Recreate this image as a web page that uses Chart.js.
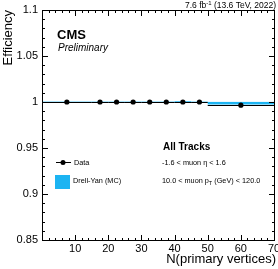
<!DOCTYPE html>
<html>
<head>
<meta charset="utf-8">
<script src="https://cdn.jsdelivr.net/npm/chart.js@4/dist/chart.umd.min.js"></script>
<style>
  html, body { margin: 0; padding: 0; background: #fff; overflow: hidden; }
  #wrap { width: 278px; height: 269px; position: relative; }
  #ov { position: absolute; left: 0; top: 0; pointer-events: none; }
</style>
</head>
<body>
<div id="wrap"><canvas id="c"></canvas><canvas id="ov" width="278" height="269"></canvas></div>
<script>
// bins in N(primary vertices)
const binEdges = [0, 15, 20, 25, 30, 35, 40, 45, 50, 70];
// data efficiency per bin
const dataEff = [1.0, 1.0, 1.0, 1.0, 1.0, 1.0, 1.0, 1.0, 0.9965];
// Drell-Yan MC efficiency and its uncertainty
const mcEff = [1.0, 1.0, 1.0, 1.0, 1.0, 1.0, 1.0, 1.0, 0.9987];
const mcErr = [0.0004, 0.0004, 0.0004, 0.0004, 0.0004, 0.0004, 0.0008, 0.0004, 0.0014];
// axis ticks
const xTicks = [10, 20, 30, 40, 50, 60, 70];
const yTicks = [0.85, 0.9, 0.95, 1, 1.05, 1.1];

const FONT = '"Liberation Sans", Arial, sans-serif';
const MC_COLOR = '#1cb4f2';

const binCenters = dataEff.map((_, i) => (binEdges[i] + binEdges[i + 1]) / 2);

// MC band and data x-error bars, under the markers
const bands = {
    id: 'bands',
    beforeDatasetsDraw(chart) {
        const ctx = chart.ctx;
        const x = chart.scales.x, y = chart.scales.y;
        ctx.save();
        ctx.fillStyle = MC_COLOR;
        mcEff.forEach((v, i) => {
            const x0 = x.getPixelForValue(binEdges[i]);
            const x1 = x.getPixelForValue(binEdges[i + 1]);
            const y0 = y.getPixelForValue(v + mcErr[i]);
            const y1 = y.getPixelForValue(v - mcErr[i]);
            ctx.fillRect(x0, y0, x1 - x0, Math.max(y1 - y0, 1));
        });
        ctx.fillStyle = '#000';
        dataEff.forEach((v, i) => {
            const py = Math.round(y.getPixelForValue(v));
            const x0 = x.getPixelForValue(binEdges[i]);
            const x1 = x.getPixelForValue(binEdges[i + 1]);
            ctx.fillRect(x0, py, x1 - x0, 1);
        });
        ctx.restore();
    }
};

// frame with inward major/minor ticks, drawn on an overlay canvas
function drawFrame(ctx, chart) {
    const x = chart.scales.x, y = chart.scales.y;
    const L = Math.round(x.getPixelForValue(0));
    const R = Math.round(x.getPixelForValue(70));
    const T = Math.round(y.getPixelForValue(1.1));
    const B = Math.round(y.getPixelForValue(0.85));
    ctx.save();
    ctx.fillStyle = '#000';
    ctx.fillRect(L, T, R - L + 1, 1);
    ctx.fillRect(L, B, R - L + 1, 1);
    ctx.fillRect(L, T, 1, B - T + 1);
    ctx.fillRect(R, T, 1, B - T + 1);
    for (let v = 0; v <= 70; v += 2) {
        const px = Math.round(x.getPixelForValue(v));
        const len = v % 10 === 0 ? 6 : 3;
        ctx.fillRect(px, B - len + 1, 1, len);
        ctx.fillRect(px, T, 1, len);
    }
    for (let k = 0; k <= 25; k++) {
        const py = Math.round(y.getPixelForValue(0.85 + k * 0.01));
        const len = k % 5 === 0 ? 6 : 3;
        ctx.fillRect(L, py, len, 1);
        ctx.fillRect(R - len + 1, py, len, 1);
    }
    ctx.restore();
}

const frame = {
    id: 'frame',
    afterDraw(chart) {
        drawFrame(chart.ctx, chart);
        const ov = document.getElementById('ov');
        const octx = ov.getContext('2d');
        octx.clearRect(0, 0, ov.width, ov.height);
        drawFrame(octx, chart);
    }
};

// titles, CMS label and legend
const labels = {
    id: 'labels',
    afterDraw(chart) {
        const ctx = chart.ctx;
        ctx.save();
        ctx.fillStyle = '#000';
        ctx.textBaseline = 'middle';
        ctx.textAlign = 'right';
        ctx.font = '8.5px ' + FONT;
        ctx.fillText('(13.6 TeV, 2022)', 276, 6);
        const w1 = ctx.measureText(' (13.6 TeV, 2022)').width;
        ctx.font = '6px ' + FONT;
        const supW = ctx.measureText('-1').width;
        ctx.fillText('-1', 276 - w1, 3);
        ctx.font = '8.5px ' + FONT;
        ctx.fillText('7.6 fb', 276 - w1 - supW, 6);

        ctx.textAlign = 'left';
        ctx.font = 'bold 13px ' + FONT;
        ctx.fillText('CMS', 57, 35);
        ctx.font = 'italic 10px ' + FONT;
        ctx.fillText('Preliminary', 58, 48);

        ctx.font = '13px ' + FONT;
        ctx.textAlign = 'right';
        ctx.fillText('N(primary vertices)', 276, 259);
        ctx.save();
        ctx.translate(8, 10);
        ctx.rotate(-Math.PI / 2);
        ctx.fillText('Efficiency', 0, 0);
        ctx.restore();

        ctx.fillRect(56, 162, 15, 1);
        ctx.beginPath();
        ctx.arc(63, 162.5, 2.5, 0, Math.PI * 2);
        ctx.fill();
        ctx.fillStyle = MC_COLOR;
        ctx.fillRect(55, 175, 15, 14);
        ctx.fillStyle = '#000';
        ctx.textAlign = 'left';
        ctx.font = '7.3px ' + FONT;
        ctx.fillText('Data', 74, 163);
        ctx.fillText('Drell-Yan (MC)', 73, 181);

        ctx.font = 'bold 10px ' + FONT;
        ctx.fillText('All Tracks', 163, 147);
        ctx.font = '7.3px ' + FONT;
        ctx.fillText('-1.6 < muon \u03B7 < 1.6', 162, 163);
        let tx = 162;
        const s1 = '10.0 < muon p';
        ctx.fillText(s1, tx, 181);
        tx += ctx.measureText(s1).width;
        ctx.font = '5.5px ' + FONT;
        ctx.fillText('T', tx, 183.5);
        tx += ctx.measureText('T').width;
        ctx.font = '7.3px ' + FONT;
        ctx.fillText(' (GeV) < 120.0', tx, 181);
        ctx.restore();
    }
};

new Chart(document.getElementById('c'), {
    type: 'scatter',
    data: {
        datasets: [{
            label: 'Data',
            data: binCenters.map((c, i) => ({ x: c, y: dataEff[i] })),
            pointRadius: 2.6,
            pointBackgroundColor: '#000',
            pointBorderWidth: 0
        }]
    },
    options: {
        responsive: true,
        maintainAspectRatio: false,
        animation: false,
        devicePixelRatio: 1,
        events: [],
        layout: { padding: { top: 10, right: 2, left: 0, bottom: 0 } },
        plugins: {
            legend: { display: false },
            tooltip: { enabled: false }
        },
        scales: {
            x: {
                type: 'linear',
                min: 0,
                max: 70,
                afterFit: (s) => { s.height = 29; s.paddingLeft = 0; s.paddingRight = 0; },
                afterBuildTicks: (s) => { s.ticks = xTicks.map(v => ({ value: v })); },
                grid: { display: false, drawTicks: false },
                border: { display: true, color: '#000', width: 1 },
                ticks: {
                    padding: 2,
                    color: '#000',
                    font: { family: FONT, size: 11 },
                    maxRotation: 0
                }
            },
            y: {
                type: 'linear',
                min: 0.85,
                max: 1.1,
                afterFit: (s) => { s.width = 42; s.paddingTop = 0; s.paddingBottom = 0; },
                afterBuildTicks: (s) => { s.ticks = yTicks.map(v => ({ value: v })); },
                grid: { display: false, drawTicks: false },
                border: { display: true, color: '#000', width: 1 },
                ticks: {
                    padding: 4,
                    color: '#000',
                    font: { family: FONT, size: 11 },
                    callback: (v) => String(Math.round(v * 100) / 100)
                }
            }
        }
    },
    plugins: [bands, frame, labels]
});
</script>
</body>
</html>
